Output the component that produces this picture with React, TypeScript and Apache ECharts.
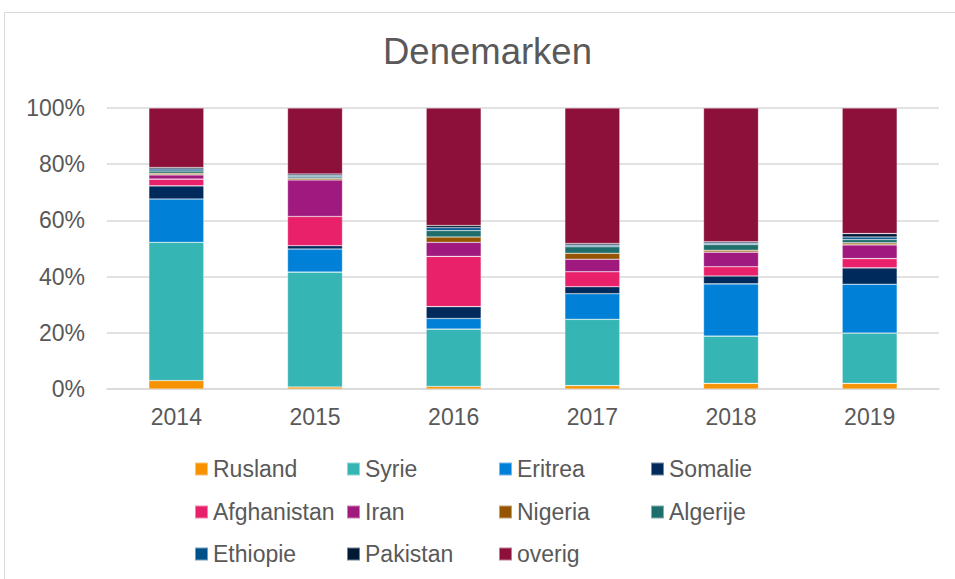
import React, { useEffect, useRef } from "react";
import * as echarts from "echarts";

const years = ["2014", "2015", "2016", "2017", "2018", "2019"];

const rusland = [3.0, 0.7, 0.9, 1.2, 2.0, 2.0];
const syrie = [49.2, 40.9, 20.4, 23.6, 16.8, 17.9];
const eritrea = [15.4, 8.2, 3.8, 9.1, 18.6, 17.4];
const somalie = [4.7, 1.2, 4.2, 2.5, 2.8, 5.8];
const afghanistan = [2.4, 10.4, 17.9, 5.3, 3.3, 3.3];
const iran = [1.5, 13.0, 5.0, 4.5, 5.2, 4.9];
const nigeria = [0.6, 0.5, 1.9, 2.1, 0.7, 0.7];
const algerije = [0.8, 0.6, 2.3, 2.3, 2.0, 1.2];
const ethiopie = [0.7, 0.5, 1.0, 0.6, 0.5, 0.9];
const pakistan = [0.5, 0.5, 0.8, 0.6, 0.5, 1.2];
const overig = [21.2, 23.5, 41.8, 48.2, 47.6, 44.7];

const seriesNames = [
  "Rusland", "Syrie", "Eritrea", "Somalie", "Afghanistan", "Iran",
  "Nigeria", "Algerije", "Ethiopie", "Pakistan", "overig",
];
const seriesData = [
  rusland, syrie, eritrea, somalie, afghanistan, iran,
  nigeria, algerije, ethiopie, pakistan, overig,
];
const colors = [
  "#F79200", "#35B6B4", "#0080D6", "#002A5C", "#E8216A", "#A0197E",
  "#945400", "#1E6E6B", "#00508A", "#001A36", "#8C103A",
];

const legendRows = [
  ["Rusland", "Syrie", "Eritrea", "Somalie"],
  ["Afghanistan", "Iran", "Nigeria", "Algerije"],
  ["Ethiopie", "Pakistan", "overig"],
];

const yTicks = [0, 20, 40, 60, 80, 100];

const FONT = "'Liberation Sans', Arial, sans-serif";
const TEXT = "#595959";

export default function App() {
  const ref = useRef<HTMLDivElement>(null);

  useEffect(() => {
    if (!ref.current) return;
    const chart = echarts.init(ref.current, null, { renderer: "svg" });
    const rowTops = [456, 499, 541];
    chart.setOption({
      animation: false,
      backgroundColor: "#ffffff",
      color: colors,
      textStyle: { fontFamily: FONT },
      title: {
        text: "Denemarken",
        left: 383,
        top: 33,
        padding: 0,
        textStyle: { fontFamily: FONT, fontSize: 36.5, fontWeight: "normal", color: TEXT },
      },
      graphic: [
        {
          type: "rect",
          shape: { x: 4.5, y: 12.5, width: 1000, height: 700 },
          style: { fill: "none", stroke: "#D9D9D9", lineWidth: 1 },
          silent: true,
        },
      ],
      legend: legendRows.map((row, i) => ({
        data: row,
        left: 194,
        top: rowTops[i],
        padding: 0,
        orient: "horizontal",
        itemWidth: 13,
        itemHeight: 13,
        itemGap: 0,
        icon: "rect",
        selectedMode: false,
        textStyle: {
          fontFamily: FONT,
          fontSize: 23,
          color: TEXT,
          width: 133,
          lineHeight: 26,
          overflow: "none",
        },
      })),
      grid: { left: 107, right: 16, top: 108, height: 281, containLabel: false },
      xAxis: {
        type: "category",
        data: years,
        axisLine: { show: true, lineStyle: { color: "#D9D9D9", width: 1.5 } },
        axisTick: { show: false },
        axisLabel: { fontFamily: FONT, fontSize: 23, color: TEXT, margin: 16 },
      },
      yAxis: {
        type: "value",
        min: yTicks[0],
        max: yTicks[yTicks.length - 1],
        interval: 20,
        axisLine: { show: false },
        axisTick: { show: false },
        splitLine: { lineStyle: { color: "#D9D9D9", width: 1.5 } },
        axisLabel: {
          fontFamily: FONT,
          fontSize: 23,
          color: TEXT,
          margin: 22,
          formatter: "{value}%",
        },
      },
      series: seriesNames.map((name, i) => ({
        name,
        type: "bar",
        stack: "total",
        barWidth: 55,
        data: seriesData[i],
        itemStyle: {
          color: colors[i],
          borderColor: "rgba(255,255,255,0.45)",
          borderWidth: 0.6,
        },
      })),
    });
    return () => chart.dispose();
  }, []);

  return (
    <div
      ref={ref}
      style={{ position: "fixed", left: 0, top: 0, width: 955, height: 579 }}
    />
  );
}
